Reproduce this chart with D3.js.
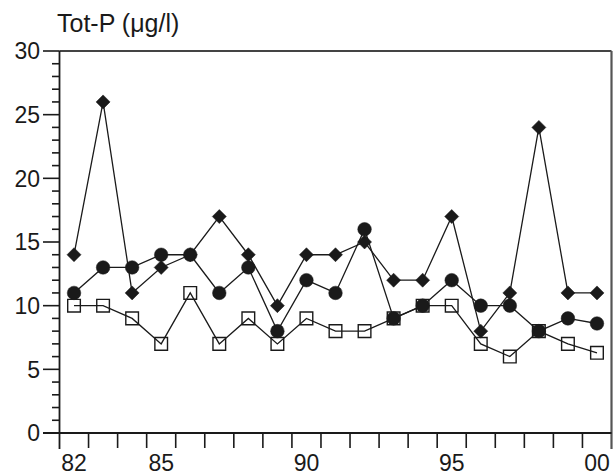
<!DOCTYPE html>
<html>
<head>
<meta charset="utf-8">
<script src="https://cdn.jsdelivr.net/npm/d3@7"></script>
<style>
  body { margin: 0; background: #fff; }
  text { font-family: Arial, "Liberation Sans", sans-serif; fill: #1a1a1a; }
</style>
</head>
<body>
<svg id="chart"></svg>
<script>
const years = [82, 83, 84, 85, 86, 87, 88, 89, 90, 91, 92, 93, 94, 95, 96, 97, 98, 99, 100];
const diamondValues = [14, 26, 11, 13, 14, 17, 14, 10, 14, 14, 15, 12, 12, 17, 8, 11, 24, 11, 11];
const circleValues = [11, 13, 13, 14, 14, 11, 13, 8, 12, 11, 16, 9, 10, 12, 10, 10, 8, 9, 8.6];
const squareValues = [10, 10, 9, 7, 11, 7, 9, 7, 9, 8, 8, 9, 10, 10, 7, 6, 8, 7, 6.3];
const xLabels = [82, 85, 90, 95, 100];
const yLabels = [0, 5, 10, 15, 20, 25, 30];

const W = 614, H = 476;
const svg = d3.select("#chart").attr("width", W).attr("height", H);

const x = d3.scaleLinear().domain([81.5, 100.5]).range([59.5, 611.5]);
const y = d3.scaleLinear().domain([0, 30]).range([433, 51]);

// frame (top + right)
svg.append("line").attr("x1", x(81.5)).attr("x2", x(100.5)).attr("y1", y(30)).attr("y2", y(30))
    .attr("stroke", "#444").attr("stroke-width", 2);
svg.append("line").attr("x1", x(100.5)).attr("x2", x(100.5)).attr("y1", y(30)).attr("y2", y(0) + 16)
    .attr("stroke", "#555").attr("stroke-width", 2.2);

// y axis with minor ticks
const yAxis = svg.append("g");
yAxis.append("line").attr("x1", x(81.5)).attr("x2", x(81.5)).attr("y1", y(30)).attr("y2", y(0) + 16)
    .attr("stroke", "#1a1a1a").attr("stroke-width", 1.8);
yAxis.selectAll(".minor").data(d3.range(0, 31)).enter().append("line")
    .attr("x1", d => d % 5 === 0 ? 43 : 52)
    .attr("x2", x(81.5))
    .attr("y1", d => y(d)).attr("y2", d => y(d))
    .attr("stroke", "#1a1a1a").attr("stroke-width", 1.6);
yAxis.selectAll("text").data(yLabels).enter().append("text")
    .attr("x", 40).attr("y", d => y(d)).attr("dy", "0.36em")
    .attr("text-anchor", "end").attr("font-size", 23)
    .text(d => d);

// x axis: ticks at year boundaries
const xAxis = svg.append("g");
xAxis.append("line").attr("x1", 43).attr("x2", x(100.5)).attr("y1", y(0)).attr("y2", y(0))
    .attr("stroke", "#1a1a1a").attr("stroke-width", 1.8);
xAxis.selectAll(".tick").data(d3.range(82.5, 100.5, 1)).enter().append("line")
    .attr("x1", d => x(d)).attr("x2", d => x(d))
    .attr("y1", y(0)).attr("y2", y(0) + 15)
    .attr("stroke", "#1a1a1a").attr("stroke-width", 1.6);
xAxis.selectAll("text").data(xLabels).enter().append("text")
    .attr("x", d => x(d)).attr("y", 471)
    .attr("text-anchor", "middle").attr("font-size", 23)
    .text(d => String(d % 100).padStart(2, "0"));

// title
svg.append("text").attr("x", 57).attr("y", 32).attr("font-size", 25).text("Tot-P (μg/l)");

const line = d3.line().x((d, i) => x(years[i])).y(d => y(d));

function drawSeries(values, symbolType, size, fill, rotate) {
    const g = svg.append("g");
    g.append("path").datum(values).attr("d", line)
        .attr("fill", "none").attr("stroke", "#1a1a1a").attr("stroke-width", 1.3);
    g.selectAll("path.mark").data(values).enter().append("path")
        .attr("class", "mark")
        .attr("d", d3.symbol(symbolType, size))
        .attr("transform", (d, i) => `translate(${x(years[i])},${y(d)}) rotate(${rotate})`)
        .attr("fill", fill)
        .attr("stroke", "#1a1a1a")
        .attr("stroke-width", fill === "none" ? 1.4 : 0.5);
}

drawSeries(squareValues, d3.symbolSquare, 160, "none", 0);
drawSeries(circleValues, d3.symbolCircle, 145, "#1a1a1a", 0);
drawSeries(diamondValues, d3.symbolSquare, 98, "#1a1a1a", 45);
</script>
</body>
</html>
